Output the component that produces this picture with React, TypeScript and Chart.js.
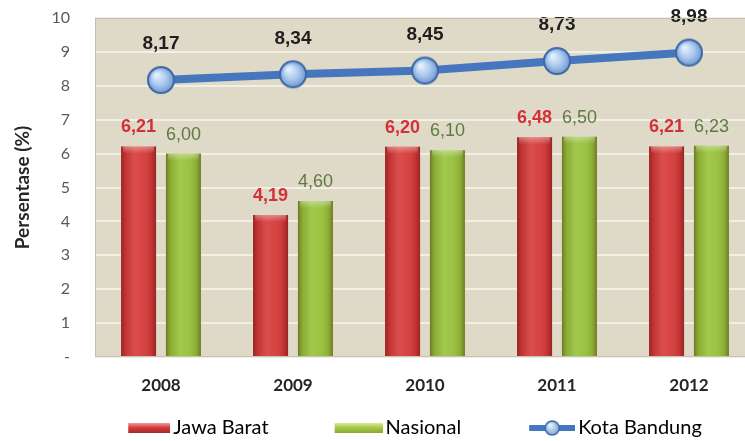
import React, { useEffect, useRef } from 'react';
import { Chart, registerables } from 'chart.js';

Chart.register(...registerables);

const categories = ['2008', '2009', '2010', '2011', '2012'];
const jawaBarat = [6.21, 4.19, 6.2, 6.48, 6.21];
const nasional = [6.0, 4.6, 6.1, 6.5, 6.23];
const kotaBandung = [8.17, 8.34, 8.45, 8.73, 8.98];
const yTickLabels = ['-', '1', '2', '3', '4', '5', '6', '7', '8', '9', '10'];
const seriesNames = ['Jawa Barat', 'Nasional', 'Kota Bandung'];

const LEG_FONT = 20;
const LEG_BOX = 99;
const LEG_PAD = 8;

function makeCanvas(w: number, h: number, draw: (c: CanvasRenderingContext2D) => void) {
  const cv = document.createElement('canvas');
  cv.width = w;
  cv.height = h;
  const c = cv.getContext('2d')!;
  draw(c);
  return cv;
}

function pointImage(r: number) {
  const s = Math.ceil(r * 2 + 4);
  return makeCanvas(s, s, (c) => {
    const cx = s / 2, cy = s / 2;
    const g = c.createRadialGradient(cx - r * 0.35, cy - r * 0.4, r * 0.1, cx, cy, r);
    g.addColorStop(0, '#E4F0FC');
    g.addColorStop(0.55, '#A9C8EE');
    g.addColorStop(1, '#7098D0');
    c.beginPath();
    c.arc(cx, cy, r, 0, Math.PI * 2);
    c.fillStyle = g;
    c.fill();
    c.lineWidth = 2;
    c.strokeStyle = '#3F68A6';
    c.stroke();
  });
}

function swatchImage(sw: number, top: string, mid: string, bot: string) {
  const w = LEG_BOX + LEG_FONT - 6;
  const h = 20;
  return makeCanvas(w, h, (c) => {
    const x = w - sw, y = 5, sh = 10;
    const g = c.createLinearGradient(0, y, 0, y + sh);
    g.addColorStop(0, top);
    g.addColorStop(0.45, mid);
    g.addColorStop(1, bot);
    c.fillStyle = g;
    c.fillRect(x, y, sw, sh);
  });
}

function lineLegendImage(sw: number) {
  const w = LEG_BOX + LEG_FONT - 6;
  const h = 20;
  return makeCanvas(w, h, (c) => {
    const x0 = w - sw;
    c.strokeStyle = '#4676BD';
    c.lineWidth = 6;
    c.beginPath();
    c.moveTo(x0, h / 2);
    c.lineTo(w, h / 2);
    c.stroke();
    const cx = x0 + sw / 2, cy = h / 2, r = 7;
    const g = c.createRadialGradient(cx - 2, cy - 3, 1, cx, cy, r);
    g.addColorStop(0, '#E4F0FC');
    g.addColorStop(1, '#7FA6DA');
    c.beginPath();
    c.arc(cx, cy, r, 0, Math.PI * 2);
    c.fillStyle = g;
    c.fill();
    c.lineWidth = 1.5;
    c.strokeStyle = '#3F68A6';
    c.stroke();
  });
}

const plotBackground = {
  id: 'plotBackground',
  beforeDraw(chart: any) {
    const { ctx, chartArea: a } = chart;
    ctx.save();
    ctx.fillStyle = '#DEDAC7';
    ctx.fillRect(a.left, a.top, a.right - a.left, a.bottom - a.top);
    ctx.restore();
  },
  afterDraw(chart: any) {
    const { ctx, chartArea: a } = chart;
    ctx.save();
    ctx.strokeStyle = '#C4C0AC';
    ctx.lineWidth = 1;
    ctx.strokeRect(a.left + 0.5, a.top + 0.5, a.right - a.left - 1, a.bottom - a.top - 1);
    ctx.restore();
  },
};

const barShading = {
  id: 'barShading',
  afterDatasetDraw(chart: any, args: any) {
    const meta = args.meta;
    if (meta.type !== 'bar') return;
    const ctx = chart.ctx;
    meta.data.forEach((el: any) => {
      const { x, y, base, width } = el.getProps(['x', 'y', 'base', 'width'], true);
      const left = x - width / 2;
      const h = base - y;
      const g = ctx.createLinearGradient(left, 0, left + width, 0);
      g.addColorStop(0, 'rgba(60,0,0,0.38)');
      g.addColorStop(0.12, 'rgba(40,0,0,0.12)');
      g.addColorStop(0.4, 'rgba(255,255,255,0.10)');
      g.addColorStop(0.6, 'rgba(255,255,255,0.05)');
      g.addColorStop(0.88, 'rgba(40,0,0,0.12)');
      g.addColorStop(1, 'rgba(60,0,0,0.38)');
      ctx.save();
      ctx.fillStyle = g;
      ctx.fillRect(left, y, width, h);
      const t = ctx.createLinearGradient(0, y, 0, y + 7);
      t.addColorStop(0, 'rgba(255,255,255,0.35)');
      t.addColorStop(1, 'rgba(255,255,255,0)');
      ctx.fillStyle = t;
      ctx.fillRect(left + 2, y, width - 4, 7);
      ctx.restore();
    });
  },
};

const valueLabels = {
  id: 'valueLabels',
  afterDatasetsDraw(chart: any) {
    const ctx = chart.ctx;
    chart.data.datasets.forEach((ds: any, i: number) => {
      const meta = chart.getDatasetMeta(i);
      const st = ds.labelStyle;
      meta.data.forEach((el: any, j: number) => {
        const v = ds.data[j] as number;
        const text = v.toFixed(2).replace('.', ',');
        ctx.save();
        ctx.font = st.font;
        ctx.fillStyle = st.color;
        ctx.textAlign = 'center';
        ctx.textBaseline = 'middle';
        ctx.fillText(text, el.x, el.y - st.offset);
        ctx.restore();
      });
    });
  },
};

export default function App() {
  const ref = useRef<HTMLCanvasElement | null>(null);

  useEffect(() => {
    if (!ref.current) return;
    const redLegend = swatchImage(42, '#F29A9A', '#D63E3E', '#A82626');
    const greenLegend = swatchImage(48, '#DDEB92', '#A9C94A', '#86AA32');
    const blueLegend = lineLegendImage(46);
    const pt = pointImage(13);

    const chart = new Chart(ref.current, {
      type: 'bar',
      data: {
        labels: categories,
        datasets: [
          {
            type: 'line',
            label: seriesNames[2],
            data: kotaBandung,
            borderColor: '#4676BD',
            borderWidth: 8,
            pointStyle: pt as any,
            pointRadius: 14,
            tension: 0,
            labelStyle: { font: 'bold 19px "Liberation Sans", Arial, sans-serif', color: '#1E1E1E', offset: 36 },
          } as any,
          {
            type: 'bar',
            label: seriesNames[0],
            data: jawaBarat,
            backgroundColor: '#D63A3A',
            borderWidth: 0,
            categoryPercentage: 0.68,
            barPercentage: 0.78,
            labelStyle: { font: 'bold 18px "Liberation Sans", Arial, sans-serif', color: '#D3313A', offset: 19 },
          } as any,
          {
            type: 'bar',
            label: seriesNames[1],
            data: nasional,
            backgroundColor: '#97C23A',
            borderWidth: 0,
            categoryPercentage: 0.68,
            barPercentage: 0.78,
            labelStyle: { font: '18px "Liberation Sans", Arial, sans-serif', color: '#5F7A40', offset: 19 },
          } as any,
        ],
      },
      options: {
        responsive: false,
        animation: false,
        devicePixelRatio: 1,
        layout: { autoPadding: false, padding: { top: 18, left: 11, right: 0, bottom: 0 } },
        plugins: {
          tooltip: { enabled: false },
          legend: {
            position: 'bottom',
            labels: {
              usePointStyle: true,
              pointStyleWidth: LEG_BOX,
              boxHeight: LEG_FONT,
              padding: LEG_PAD,
              color: '#1E1E1E',
              font: { family: 'Lato', size: LEG_FONT },
              generateLabels: () => [
                { text: seriesNames[0], pointStyle: redLegend as any, fillStyle: '#D63A3A', strokeStyle: 'transparent', lineWidth: 0, hidden: false, datasetIndex: 1 },
                { text: seriesNames[1], pointStyle: greenLegend as any, fillStyle: '#97C23A', strokeStyle: 'transparent', lineWidth: 0, hidden: false, datasetIndex: 2 },
                { text: seriesNames[2], pointStyle: blueLegend as any, fillStyle: '#4676BD', strokeStyle: 'transparent', lineWidth: 0, hidden: false, datasetIndex: 0 },
              ],
            },
          },
        },
        scales: {
          x: {
            offset: true,
            grid: { display: false, drawTicks: false },
            border: { display: false },
            ticks: {
              padding: 18,
              color: '#262626',
              font: { family: 'Lato', size: 17, weight: 'bold' },
            },
            afterFit: (s: any) => {
              s.height = 53;
              s.paddingLeft = 0;
              s.paddingRight = 0;
            },
          },
          y: {
            min: 0,
            max: 10,
            grid: { color: '#F1EFE6', lineWidth: 2, drawTicks: false },
            border: { display: false },
            ticks: {
              stepSize: 1,
              padding: 25,
              color: '#595959',
              font: { family: 'Lato', size: 16 },
              callback: (v: any) => yTickLabels[Math.round(Number(v))],
            },
            title: {
              display: true,
              text: 'Persentase (%)',
              color: '#262626',
              font: { family: 'Lato', size: 19, weight: 'bold' },
              padding: { top: 0, bottom: 0 },
            },
            afterFit: (s: any) => {
              s.width = 84;
              s.paddingTop = 0;
              s.paddingBottom = 0;
            },
          },
        },
      },
      plugins: [plotBackground, barShading, valueLabels],
    } as any);
    return () => chart.destroy();
  }, []);

  return (
    <div style={{ position: 'fixed', left: 0, top: 0, width: 745, height: 441, overflow: 'hidden', background: '#fff' }}>
      <canvas ref={ref} width={755} height={448} style={{ display: 'block', width: 755, height: 448 }} />
    </div>
  );
}
